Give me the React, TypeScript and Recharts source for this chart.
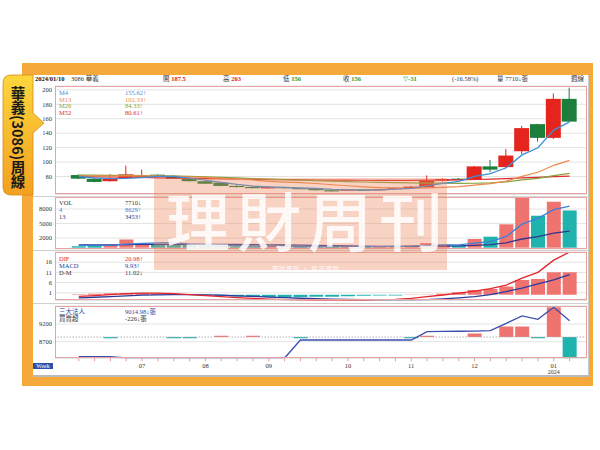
import React from 'react';
import { ComposedChart, Bar, Line, XAxis, YAxis, CartesianGrid, Cell, ReferenceLine } from 'recharts';

// ---------- DATA ----------
const weeks = [
  '2023/06/09', '2023/06/16', '2023/06/23', '2023/06/30',
  '2023/07/07', '2023/07/14', '2023/07/21', '2023/07/28',
  '2023/08/04', '2023/08/11', '2023/08/18', '2023/08/25',
  '2023/09/01', '2023/09/08', '2023/09/15', '2023/09/22', '2023/09/29',
  '2023/10/06', '2023/10/13', '2023/10/20', '2023/10/27',
  '2023/11/03', '2023/11/10', '2023/11/17', '2023/11/24',
  '2023/12/01', '2023/12/08', '2023/12/15', '2023/12/22', '2023/12/29',
  '2024/01/05', '2024/01/10',
];
const opens = [82, 77, 73.5, 78, 80, 82.5, 81, 77, 73.5, 71.5, 67, 65.5, 63.5, 65.5, 64, 63, 61, 60.5, 62, 61.5, 62.5, 64, 65, 74.5, 77, 75.5, 94, 93, 115, 152.5, 133.5, 187.5];
const highs = [83, 78, 83.5, 95, 89.5, 83, 81.5, 77.5, 74, 72, 68, 66.5, 66.5, 66, 64.5, 63.5, 61.5, 62.5, 62.5, 63, 65, 67, 81.5, 77.5, 78, 94.5, 103, 118, 150, 153, 195, 203];
const lows = [76.5, 72, 73, 77, 78, 79.5, 76.5, 73, 69.5, 66.5, 65, 63.5, 63, 63.5, 62.5, 60.5, 59.5, 60, 61, 61, 62, 63, 64, 73, 75, 75, 86, 92, 111, 128.5, 132, 156];
const closes = [77, 72.5, 77, 83, 81, 80, 77, 73.5, 70, 67, 65.5, 64, 65.5, 64, 63, 61, 60.5, 62, 61.5, 62.5, 64.5, 66, 74.5, 76.5, 76, 94, 89.5, 109, 147, 133.5, 187.5, 156];
const ma4 = [80, 78, 77, 77.4, 78.4, 80.3, 80.3, 77.9, 75.1, 71.9, 69, 66.6, 65.5, 64.8, 64.1, 63.4, 62.1, 61.6, 61.3, 61.6, 62.6, 63.6, 66.9, 70.4, 73.3, 80.3, 84, 92.1, 109.9, 119.8, 144.3, 155.62];
const ma13 = [81, 81, 80.6, 80.8, 80.8, 80.7, 80.3, 79.6, 78.7, 77.6, 76.4, 75.2, 73.3, 72.3, 71.6, 70.3, 68.6, 67.2, 65.7, 64.6, 63.9, 63.6, 64.2, 65, 66, 68.2, 70.1, 73.7, 80.3, 85.9, 95.5, 102.33];
const ma26 = [82, 81.8, 81.6, 81.5, 81.3, 81, 80.6, 80.1, 79.5, 78.8, 78, 77.2, 76.5, 75.8, 75, 74.3, 73.6, 73, 72.4, 71.9, 71.5, 71.1, 70.9, 70.8, 70.6, 70.7, 71.2, 72.6, 75.3, 77.3, 81.3, 84.33];
const ma52 = [80, 79.6, 79.3, 79, 78.6, 78.2, 77.8, 77.4, 77, 76.6, 76.3, 76, 75.8, 75.6, 75.4, 75.2, 75, 74.9, 74.8, 74.7, 74.7, 74.7, 74.9, 75.1, 75.4, 75.9, 76.4, 77.1, 78, 78.8, 79.8, 80.61];
const volumes = [300, 450, 600, 1700, 900, 800, 700, 550, 450, 400, 300, 250, 300, 250, 200, 250, 200, 250, 200, 250, 350, 450, 950, 600, 400, 1800, 2280, 4840, 10560, 6620, 9520, 7710];
const volMa4 = [500, 480, 470, 760, 910, 1000, 1030, 740, 630, 530, 430, 350, 310, 280, 250, 250, 230, 230, 230, 230, 260, 310, 500, 590, 600, 940, 1270, 2330, 4870, 6080, 7890, 8629];
const volMa13 = [600, 600, 600, 650, 680, 700, 700, 700, 690, 680, 660, 630, 600, 560, 530, 470, 400, 350, 310, 280, 270, 280, 330, 350, 360, 480, 640, 1000, 1800, 2300, 3000, 3453];
const dif = [-0.8, -0.4, 0.1, 0.6, 0.8, 0.8, 0.6, 0.1, -0.4, -0.9, -1.4, -1.8, -2.1, -2.4, -2.6, -2.7, -2.8, -2.8, -2.7, -2.4, -2.2, -1.8, -0.9, -0.1, 0.8, 1.8, 3.0, 4.8, 8.2, 11.0, 17.0, 20.98];
const macd = [-1.5, -1.2, -0.9, -0.5, -0.2, 0.0, 0.1, 0.1, 0.0, -0.2, -0.5, -0.8, -1.1, -1.4, -1.7, -1.9, -2.1, -2.3, -2.4, -2.5, -2.5, -2.5, -2.4, -2.0, -1.5, -0.9, 0.1, 1.6, 3.3, 5.3, 7.3, 9.93];
const dm = [0.3, 0.5, 0.7, 0.9, 0.9, 0.8, 0.5, 0.1, -0.3, -0.6, -0.8, -1.0, -1.1, -1.1, -1.1, -1.0, -0.9, -0.7, -0.5, -0.4, -0.3, 0.1, 0.15, 0.5, 1.3, 2.4, 2.9, 4.1, 7.3, 7.8, 11.1, 11.02];
const instHold = [8277, 8277, 8277, 8240, 8240, 8240, 8240, 8240, 8240, 8240, 8240, 8240, 8240, 8240, 8748, 8748, 8748, 8748, 8748, 8748, 8748, 8748, 8982, 8990, 8995, 9000, 9011, 9219, 9426, 9333, 9672, 9293];
const instNet = [0, 0, -14, 0, 0, 0, -12, -12, 0, 14, 0, 14, 0, 0, -12, 0, 0, 0, 0, 0, 0, -12, 12, 0, 0, 36, 0, 112, 112, -12, 315, -226];

const priceTicks = [80, 100, 120, 140, 160, 180, 200];
const volTicks = [2000, 5000, 8000];
const macdTicks = [1, 6, 11, 16];
const chipTicks = [8700, 9200];

const headerItems = [
  { x: 35, parts: [{ t: '2024/01/10', c: '#111', b: true }] },
  { x: 71, parts: [{ t: '3086 華義', c: '#333', b: false }] },
  { x: 163, parts: [{ t: '開 ', c: '#333', b: false }, { t: '187.5', c: '#e0221c', b: true }] },
  { x: 223, parts: [{ t: '高 ', c: '#333', b: false }, { t: '203', c: '#e0221c', b: true }] },
  { x: 283, parts: [{ t: '低 ', c: '#333', b: false }, { t: '156', c: '#1a9a3a', b: true }] },
  { x: 343, parts: [{ t: '收 ', c: '#333', b: false }, { t: '156', c: '#1a9a3a', b: true }] },
  { x: 403, parts: [{ t: '▽-31', c: '#1a9a3a', b: true }] },
  { x: 452, parts: [{ t: '(-16.58%)', c: '#333', b: false }] },
  { x: 497, parts: [{ t: '量 7710↓張', c: '#333', b: false }] },
  { x: 571, parts: [{ t: '週線', c: '#333', b: false }] },
];

const priceLegend = [
  { label: 'M4', value: '155.62↑', color: '#3d8fd6' },
  { label: 'M13', value: '102.33↑', color: '#ee8a4e' },
  { label: 'M26', value: '84.33↑', color: '#86a23a' },
  { label: 'M52', value: '80.61↑', color: '#e0282e' },
];
const volLegend = [
  { label: 'VOL', value: '7710↓', color: '#333' },
  { label: '4', value: '8629↑', color: '#3d7fd6' },
  { label: '13', value: '3453↑', color: '#34358a' },
];
const macdLegend = [
  { label: 'DIF', value: '20.98↑', color: '#e0282e' },
  { label: 'MACD', value: '9.93↑', color: '#2c3a9a' },
  { label: 'D-M', value: '11.02↓', color: '#333' },
];
const chipLegend = [
  { label: '三大法人', value: '9014.98↓張', color: '#2c4aa8' },
  { label: '買賣超', value: '-226↓張', color: '#333' },
];

// ---------- DERIVED TABLE ----------
const data = weeks.map((w, i) => ({
  i,
  week: w,
  open: opens[i],
  high: highs[i],
  low: lows[i],
  close: closes[i],
  range: [lows[i], highs[i]],
  ma4: ma4[i],
  ma13: ma13[i],
  ma26: ma26[i],
  ma52: ma52[i],
  vol: volumes[i],
  volMa4: volMa4[i],
  volMa13: volMa13[i],
  dif: dif[i],
  macd: macd[i],
  dm: dm[i],
  hold: instHold[i],
  net: instNet[i],
}));

const monthLabels = weeks.map((w, i) => {
  const [y, m] = w.split('/');
  if (i === 0) return null;
  const pm = weeks[i - 1].split('/')[1];
  if (pm === m) return null;
  return { m, y: m === '01' ? y : '' };
});

// ---------- STYLE ----------
const serif = '"Liberation Serif", "DejaVu Serif", "Noto Sans CJK TC", serif';
const cjk = '"Noto Sans CJK TC", "Noto Sans CJK SC", sans-serif';
const RED = '#e4241d';
const GREEN = '#1b7e3b';
const BAR_RED = '#ef7470';
const BAR_TEAL = '#20b3ae';
const X_DOMAIN: [number, number] = [-1.5, 32.1];
const PAD = 4;
const PRICE = { top: 85.5, bottom: 194 };
const VOLP = { top: 197, bottom: 249 };
const MACDP = { top: 251.5, bottom: 300 };
const CHIP = { top: 306, bottom: 358.3 };
const tickStyle = { fontSize: 6.5, fill: '#333', fontFamily: serif };

function Candle(props: any) {
  const { x, y, width, height, payload } = props;
  if (x == null || payload == null) return null;
  const top = Math.min(y, y + height);
  const h = Math.abs(height);
  const span = payload.high - payload.low;
  const k = span > 0 ? h / span : 0;
  const yO = top + (payload.high - payload.open) * k;
  const yC = top + (payload.high - payload.close) * k;
  const up = payload.close >= payload.open;
  const color = up ? RED : GREEN;
  const bt = Math.min(yO, yC);
  const bh = Math.max(Math.abs(yO - yC), 1.2);
  const cx = x + width / 2;
  return (
    <g>
      <line x1={cx} x2={cx} y1={top} y2={top + h} stroke={color} strokeWidth={1} />
      <rect x={x} y={bt} width={width} height={bh} fill={color} />
    </g>
  );
}

function MonthTick(props: any) {
  const { x, y, payload } = props;
  const lab = monthLabels[payload.value];
  return (
    <g>
      <line x1={x} x2={x} y1={y} y2={y + 3} stroke="#e39a9a" />
      {lab ? (
        <text x={x} y={y + 10} textAnchor="middle" fontSize={6.5} fill="#333" fontFamily={serif}>{lab.m}</text>
      ) : null}
      {lab && lab.y ? (
        <text x={x} y={y + 16} textAnchor="middle" fontSize={6} fill="#333" fontFamily={serif}>{lab.y}</text>
      ) : null}
    </g>
  );
}

function Legend({ top, rows }: { top: number; rows: { label: string; value: string; color: string }[] }) {
  return (
    <>
      {rows.map((r, j) => (
        <React.Fragment key={j}>
          <div style={{ position: 'absolute', left: 59, top: top + j * 6.8 - 4, fontSize: 6.5, lineHeight: '8px', color: r.color, fontFamily: serif, whiteSpace: 'nowrap' }}>{r.label}</div>
          <div style={{ position: 'absolute', left: 125, top: top + j * 6.8 - 4, fontSize: 6.5, lineHeight: '8px', color: r.color, fontFamily: serif, whiteSpace: 'nowrap' }}>{r.value}</div>
        </React.Fragment>
      ))}
    </>
  );
}

function Border({ p }: { p: { top: number; bottom: number } }) {
  return (
    <div style={{ position: 'absolute', left: 55, top: p.top, width: 532, height: p.bottom - p.top, border: '1px solid #e7a2a2', boxSizing: 'border-box', pointerEvents: 'none' }} />
  );
}

export default function App() {
  return (
    <div style={{ position: 'absolute', left: 0, top: 0, width: 600, height: 450, background: '#fff', overflow: 'hidden' }}>
      {/* orange frame */}
      <div style={{ position: 'absolute', left: 22, top: 63, width: 571, height: 323, background: '#f6a93b' }} />
      <div style={{ position: 'absolute', left: 33, top: 75, width: 555, height: 300, background: '#fff', borderBottom: '2px solid #b9b9b9', borderRight: '1px solid #c9c9c9' }} />

      {/* header */}
      {headerItems.map((h, j) => (
        <div key={j} style={{ position: 'absolute', left: h.x, top: 75, fontSize: 6.5, lineHeight: '8px', fontFamily: serif, whiteSpace: 'nowrap' }}>
          {h.parts.map((p, q) => (
            <span key={q} style={{ color: p.c, fontWeight: p.b ? 700 : 400 }}>{p.t}</span>
          ))}
        </div>
      ))}

      {/* separators */}
      {[195.5, 250.3, 303.2].map((y, j) => (
        <div key={j} style={{ position: 'absolute', left: 33, top: y, width: 555, height: 1, background: '#cfcfcf' }} />
      ))}

      {/* price panel */}
      <div style={{ position: 'absolute', left: 0, top: PRICE.top - PAD }}>
        <ComposedChart width={600} height={PRICE.bottom - PRICE.top + 2 * PAD} data={data} margin={{ top: PAD, right: 13, bottom: PAD, left: 0 }}>
          <CartesianGrid vertical={false} stroke="#e3e3e3" />
          <XAxis dataKey="i" type="number" domain={X_DOMAIN} allowDataOverflow hide />
          <YAxis domain={[55.1, 205.3]} ticks={priceTicks} interval={0} allowDataOverflow width={55} tickLine={false} axisLine={false} tickSize={0} tickMargin={3} tick={tickStyle} />
          <Bar dataKey="range" barSize={15} isAnimationActive={false} shape={(p: any) => <Candle {...p} />} />
          <Line dataKey="ma52" stroke="#e0282e" strokeWidth={1.2} dot={false} isAnimationActive={false} />
          <Line dataKey="ma26" stroke="#86a23a" strokeWidth={1.2} dot={false} isAnimationActive={false} />
          <Line dataKey="ma13" stroke="#ee8a4e" strokeWidth={1.2} dot={false} isAnimationActive={false} />
          <Line dataKey="ma4" stroke="#3d8fd6" strokeWidth={1.3} dot={false} isAnimationActive={false} />
        </ComposedChart>
      </div>
      <Border p={PRICE} />
      <Legend top={92.7} rows={priceLegend} />

      {/* volume panel */}
      <div style={{ position: 'absolute', left: 0, top: VOLP.top - PAD }}>
        <ComposedChart width={600} height={VOLP.bottom - VOLP.top + 2 * PAD} data={data} margin={{ top: PAD, right: 13, bottom: PAD, left: 0 }}>
          <CartesianGrid vertical={false} stroke="#e3e3e3" />
          <XAxis dataKey="i" type="number" domain={X_DOMAIN} allowDataOverflow hide />
          <YAxis domain={[-269, 10497]} ticks={volTicks} interval={0} allowDataOverflow width={55} tickLine={false} axisLine={false} tickSize={0} tickMargin={3} tick={tickStyle} />
          <Bar dataKey="vol" barSize={14} isAnimationActive={false}>
            {data.map((d, j) => (
              <Cell key={j} fill={d.close >= d.open ? BAR_RED : BAR_TEAL} />
            ))}
          </Bar>
          <Line dataKey="volMa13" stroke="#34358a" strokeWidth={1.3} dot={false} isAnimationActive={false} />
          <Line dataKey="volMa4" stroke="#3d7fd6" strokeWidth={1.3} dot={false} isAnimationActive={false} />
        </ComposedChart>
      </div>
      <Border p={VOLP} />
      <Legend top={203.3} rows={volLegend} />

      {/* macd panel */}
      <div style={{ position: 'absolute', left: 0, top: MACDP.top - PAD }}>
        <ComposedChart width={600} height={MACDP.bottom - MACDP.top + 2 * PAD} data={data} margin={{ top: PAD, right: 13, bottom: PAD, left: 0 }}>
          <CartesianGrid vertical={false} stroke="#e3e3e3" />
          <XAxis dataKey="i" type="number" domain={X_DOMAIN} allowDataOverflow hide />
          <YAxis domain={[-2.8, 21]} ticks={macdTicks} interval={0} allowDataOverflow width={55} tickLine={false} axisLine={false} tickSize={0} tickMargin={3} tick={tickStyle} />
          <Bar dataKey="dm" barSize={14} isAnimationActive={false}>
            {data.map((d, j) => (
              <Cell key={j} fill={d.dm >= 0 ? BAR_RED : BAR_TEAL} />
            ))}
          </Bar>
          <Line dataKey="macd" stroke="#2c3a9a" strokeWidth={1.3} dot={false} isAnimationActive={false} />
          <Line dataKey="dif" stroke="#e3262b" strokeWidth={1.3} dot={false} isAnimationActive={false} />
        </ComposedChart>
      </div>
      <Border p={MACDP} />
      <Legend top={259} rows={macdLegend} />

      {/* chips panel */}
      <div style={{ position: 'absolute', left: 0, top: CHIP.top - PAD }}>
        <ComposedChart width={600} height={CHIP.bottom - CHIP.top + PAD + 20} data={data} margin={{ top: PAD, right: 13, bottom: 0, left: 0 }}>
          <CartesianGrid vertical={false} stroke="#e3e3e3" yAxisId="hold" />
          <XAxis dataKey="i" type="number" domain={X_DOMAIN} allowDataOverflow ticks={data.map((d) => d.i)} interval={0} height={20} tickLine={false} axisLine={false} tickSize={0} tickMargin={0} tick={(p: any) => <MonthTick {...p} />} />
          <YAxis yAxisId="hold" domain={[8231, 9708]} ticks={chipTicks} interval={0} allowDataOverflow width={55} tickLine={false} axisLine={false} tickSize={0} tickMargin={3} tick={tickStyle} />
          <YAxis yAxisId="net" orientation="right" domain={[-226, 329]} allowDataOverflow hide />
          <ReferenceLine yAxisId="net" y={0} stroke="#b5b5b5" strokeDasharray="1.5 1.5" />
          <Bar dataKey="net" yAxisId="net" barSize={14} isAnimationActive={false}>
            {data.map((d, j) => (
              <Cell key={j} fill={d.net >= 0 ? BAR_RED : BAR_TEAL} />
            ))}
          </Bar>
          <Line dataKey="hold" yAxisId="hold" stroke="#3a4fb0" strokeWidth={1.3} dot={false} isAnimationActive={false} />
        </ComposedChart>
      </div>
      <Border p={CHIP} />
      <Legend top={312.3} rows={chipLegend} />

      {/* bottom-left button */}
      <div style={{ position: 'absolute', left: 33, top: 363, width: 20, height: 6, background: '#2d50a8', color: '#fff', fontSize: 6, lineHeight: '6px', fontFamily: serif, textAlign: 'center', overflow: 'hidden' }}>Week</div>

      {/* watermark */}
      <div style={{ position: 'absolute', left: 154, top: 178, width: 293, height: 92, background: 'rgba(236,132,92,0.36)', pointerEvents: 'none' }} />
      <div style={{ position: 'absolute', left: 166, top: 189, fontSize: 64, lineHeight: '58px', height: 58, fontWeight: 500, letterSpacing: 7, color: 'rgba(255,255,255,0.85)', fontFamily: cjk, whiteSpace: 'nowrap', pointerEvents: 'none' }}>理財周刊</div>
      <div style={{ position: 'absolute', left: 272, top: 265, fontSize: 6, lineHeight: '7px', color: 'rgba(255,255,255,0.95)', fontFamily: cjk, whiteSpace: 'nowrap', letterSpacing: 1 }}>理財周刊 · 投資理財</div>

      {/* left tab */}
      <svg style={{ position: 'absolute', left: 0, top: 70 }} width={50} height={132}>
        <defs>
          <linearGradient id="tabg" x1="0" y1="0" x2="0" y2="1">
            <stop offset="0%" stopColor="#fcd63d" />
            <stop offset="100%" stopColor="#f4a020" />
          </linearGradient>
        </defs>
        <path d="M11 5 H33 V43 L44 53 L33 63 V125 H11 Q3 125 3 117 V13 Q3 5 11 5 Z" fill="url(#tabg)" stroke="#d9891a" strokeWidth={0.8} />
      </svg>
      <div style={{ position: 'absolute', left: 10, top: 86, writingMode: 'vertical-rl', fontSize: 14.5, lineHeight: 1, fontWeight: 700, color: '#1a1a1a', fontFamily: cjk, whiteSpace: 'nowrap' }}>華義(3086)周線</div>
    </div>
  );
}
